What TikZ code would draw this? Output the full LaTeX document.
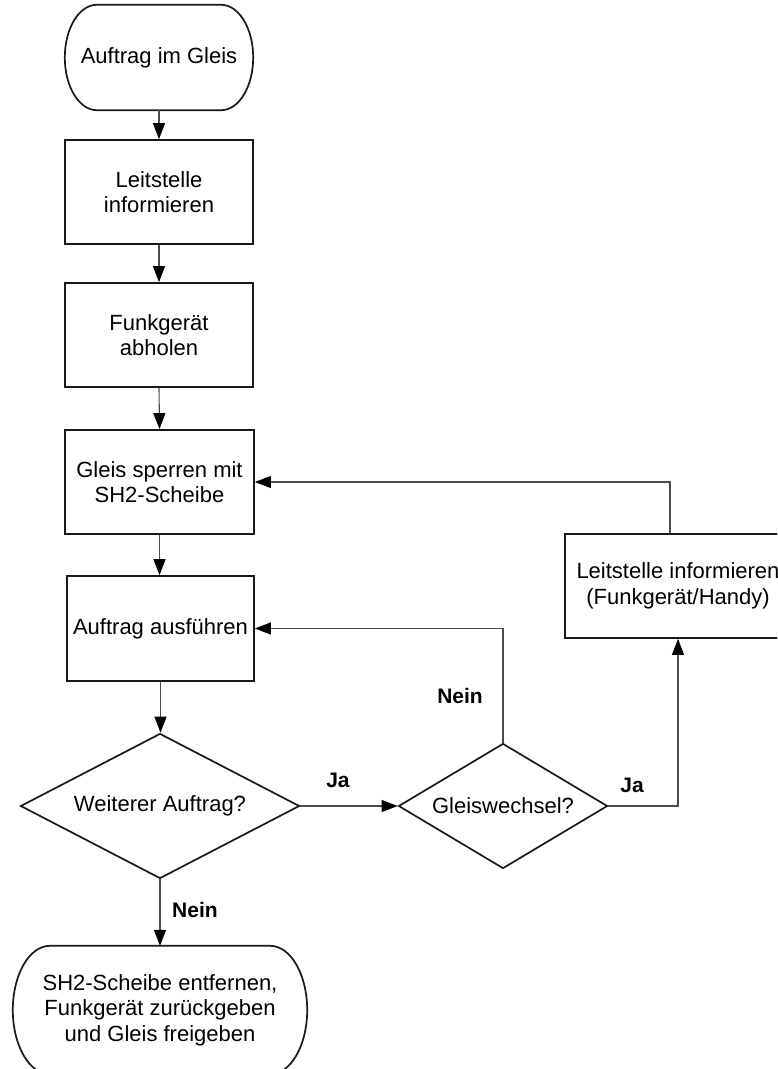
\documentclass[tikz,border=0pt]{standalone}
\usepackage{fontspec}
\setmainfont{Liberation Sans}
\usetikzlibrary{shapes.geometric,arrows.meta,calc}
\tikzset{
  boxline/.style={draw=black!90, line width=1.7pt},
  proc/.style={rectangle, boxline, inner sep=0pt, align=center,
    font=\fontsize{22}{25.5}\selectfont},
  termnode/.style={rectangle, draw=none, inner sep=0pt, align=center,
    font=\fontsize{22}{25.5}\selectfont},
  decision/.style={diamond, boxline, inner sep=0pt, align=center,
    font=\fontsize{22}{25.5}\selectfont},
  conn/.style={draw=black!70, line width=1.1pt,
    -{Triangle[length=16pt,width=12pt,fill=black,color=black]}},
  lbl/.style={font=\fontsize{21}{24}\selectfont\bfseries, inner sep=0pt}
}
\newcommand\stadiumoutline[2]{%
  \draw[boxline] let \p1=(#1.north west), \p2=(#1.south east), \n1={(\y1-\y2)/2} in
   (\x1+#2,\y1) -- (\x2-#2,\y1)
   arc[start angle=90,end angle=-90,x radius=#2,y radius=\n1]
   -- (\x1+#2,\y2)
   arc[start angle=270,end angle=90,x radius=#2,y radius=\n1] -- cycle;}
\begin{document}
\begin{tikzpicture}[x=1pt,y=1pt]
\useasboundingbox (0,0) rectangle (777,-1069);
\clip (0,0) rectangle (777,-1069);
\fill[white] (0,0) rectangle (777,-1069);

\node[termnode, minimum width=188pt, minimum height=105pt] (start) at (159,-57.5) {Auftrag im Gleis};
\stadiumoutline{start}{32pt}

\node[proc, minimum width=188pt, minimum height=104pt] (b1) at (159,-192) {Leitstelle\\informieren};
\node[proc, minimum width=188pt, minimum height=104pt] (b2) at (159,-335) {Funkgerät\\abholen};
\node[proc, minimum width=189pt, minimum height=104pt] (b3) at (159.5,-482) {Gleis sperren mit\\SH2-Scheibe};
\node[proc, minimum width=187pt, minimum height=105pt] (b4) at (160.5,-628.5) {Auftrag ausführen};
\node[decision, aspect=1.92, minimum width=279pt, minimum height=145pt] (d1) at (160,-806) {Weiterer Auftrag?};
\node[termnode, minimum width=294pt, minimum height=128pt] (end) at (160,-1010) {SH2-Scheibe entfernen,\\Funkgerät zurückgeben\\und Gleis freigeben};
\stadiumoutline{end}{37pt}
\node[decision, aspect=1.67, minimum width=209pt, minimum height=125pt] (d2) at (503,-806) {Gleiswechsel?};
\node[proc, minimum width=226pt, minimum height=104pt] (b5) at (678,-586) {Leitstelle informieren\\(Funkgerät/Handy)};

\coordinate (b5top) at ([xshift=-8pt]b5.north);
\coordinate (b5bot) at (b5.south);

\draw[conn] (start.south) -- (b1.north);
\draw[conn] (b1.south) -- (b2.north);
\draw[conn] (b2.south) -- (b3.north);
\draw[conn] (b3.south) -- (b3.south |- b4.north);
\draw[conn] (b4.south) -- (b4.south |- d1.north);
\draw[conn] (d1.south) -- (end.north);
\draw[conn] (d1.east) -- (d2.west);
\draw[conn] (d2.north) |- (b4.east);
\draw[conn] (d2.east) -| (b5bot);
\draw[conn] (b5top) |- (b3.east);

\node[lbl] (l1) at (195,-910) {Nein};
\node[lbl] (l2) at (338,-780) {Ja};
\node[lbl] (l3) at (460,-696) {Nein};
\node[lbl] (l4) at (632,-785) {Ja};
\end{tikzpicture}
\end{document}
